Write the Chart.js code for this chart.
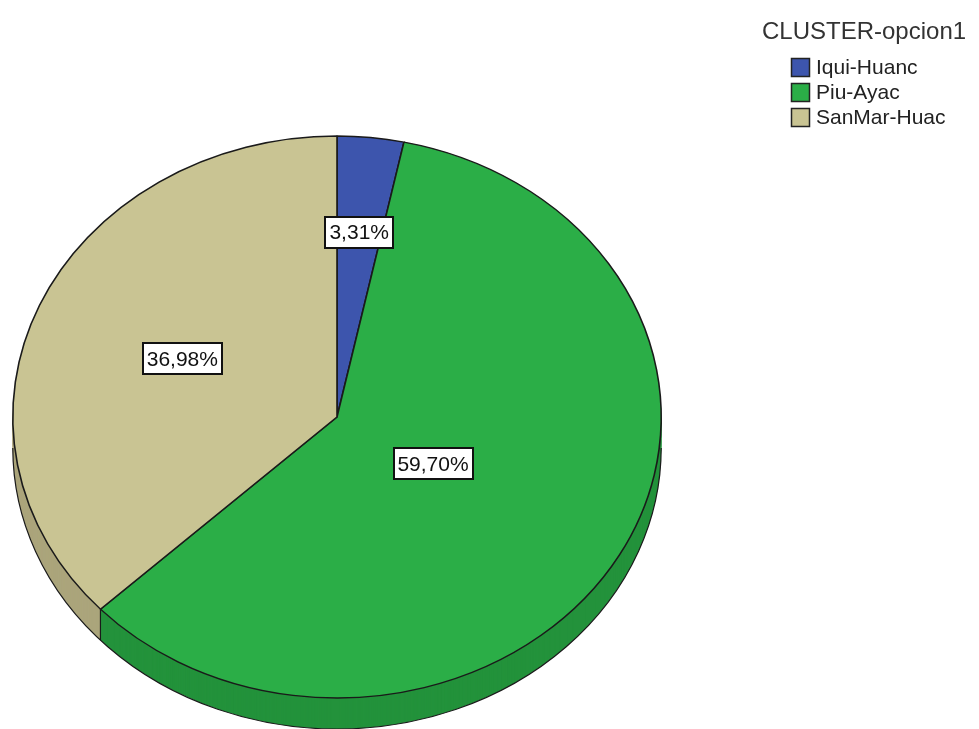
<!DOCTYPE html>
<html>
<head>
<meta charset="utf-8">
<script src="https://cdn.jsdelivr.net/npm/chart.js@4.4.0/dist/chart.umd.min.js"></script>
<style>
  html, body { margin: 0; padding: 0; background: #fff; }
  #contenedor { width: 979px; height: 729px; }
</style>
</head>
<body>
<div id="contenedor"><canvas id="myChart"></canvas></div>
<script>
// datos del grafico
const categorias = ['Iqui-Huanc', 'Piu-Ayac', 'SanMar-Huac'];
const porcentajes = [3.31, 59.70, 36.98];
const tituloLeyenda = 'CLUSTER-opcion1';

// colores: cara superior y lateral (mas oscuro)
const coloresCara = ['#3d55ad', '#2bae47', '#c9c493'];
const coloresLado = ['#2f4488', '#23923b', '#aba57c'];

// el pastel se aplasta en vertical y se le da grosor
const centroY = 417;
const radioY = 281;
const profundidad = 31;
// a que fraccion del radio va cada etiqueta
const posEtiqueta = [0.66, 0.34, 0.52];

//convierte el circulo de chart.js en elipse, desplazada dy hacia abajo
function aplicarElipse(ctx, arc, dy) {
    ctx.translate(0, centroY + dy);
    ctx.scale(1, radioY / arc.outerRadius);
    ctx.translate(0, -arc.y);
}

function formatear(valor) {
    return valor.toFixed(2).replace('.', ',') + '%';
}

const pastel3D = {
    id: 'pastel3D',
    beforeDatasetsDraw(chart) {
        var ctx = chart.ctx;
        var arcos = chart.getDatasetMeta(0).data;
        // lateral: capas apiladas de abajo hacia arriba
        for (let d = profundidad; d > 0; d--) {
            arcos.forEach((arc, i) => {
                ctx.save();
                aplicarElipse(ctx, arc, d);
                ctx.beginPath();
                ctx.moveTo(arc.x, arc.y);
                ctx.arc(arc.x, arc.y, arc.outerRadius, arc.startAngle, arc.endAngle);
                ctx.closePath();
                ctx.fillStyle = coloresLado[i];
                ctx.fill();
                ctx.restore();
            });
        }
        // contorno inferior del lateral
        var a0 = arcos[0];
        var k = radioY / a0.outerRadius;
        ctx.save();
        ctx.strokeStyle = '#1a1a1a';
        ctx.lineWidth = 1.2;
        ctx.beginPath();
        ctx.ellipse(a0.x, centroY + profundidad, a0.outerRadius, radioY, 0, 0, Math.PI);
        ctx.stroke();
        // aristas verticales entre porciones que quedan de frente
        arcos.forEach(arc => {
            var ang = arc.startAngle;
            if (Math.sin(ang) > 0) {
                var x = arc.x + Math.cos(ang) * arc.outerRadius;
                var y = centroY + Math.sin(ang) * arc.outerRadius * k;
                ctx.beginPath();
                ctx.moveTo(x, y);
                ctx.lineTo(x, y + profundidad);
                ctx.stroke();
            }
        });
        ctx.restore();
        // cara superior (la dibuja chart.js)
        ctx.save();
        aplicarElipse(ctx, a0, 0);
    },
    afterDatasetsDraw(chart) {
        chart.ctx.restore();
    },
    afterDraw(chart) {
        var ctx = chart.ctx;
        var arcos = chart.getDatasetMeta(0).data;
        ctx.save();
        // etiquetas de porcentaje
        ctx.font = '21px "Liberation Sans", Arial, sans-serif';
        ctx.textAlign = 'center';
        ctx.textBaseline = 'middle';
        arcos.forEach((arc, i) => {
            var medio = (arc.startAngle + arc.endAngle) / 2;
            var r = arc.outerRadius * posEtiqueta[i];
            var x = arc.x + Math.cos(medio) * r;
            var y = centroY + Math.sin(medio) * r * radioY / arc.outerRadius;
            var texto = formatear(porcentajes[i]);
            var w = Math.round(ctx.measureText(texto).width + 8);
            var h = 31;
            var bx = Math.round(x - w / 2);
            var by = Math.round(y - h / 2);
            ctx.fillStyle = '#ffffff';
            ctx.fillRect(bx, by, w, h);
            ctx.strokeStyle = '#111';
            ctx.lineWidth = 2;
            ctx.strokeRect(bx, by, w, h);
            ctx.fillStyle = '#111';
            ctx.fillText(texto, x, y + 1);
        });
        // leyenda
        ctx.textAlign = 'left';
        ctx.textBaseline = 'alphabetic';
        ctx.fillStyle = '#333';
        ctx.font = '24px "Liberation Sans", Arial, sans-serif';
        ctx.fillText(tituloLeyenda, 762, 39);
        ctx.font = '21px "Liberation Sans", Arial, sans-serif';
        ctx.textBaseline = 'middle';
        categorias.forEach((cat, i) => {
            var y = 58 + i * 25;
            ctx.fillStyle = coloresCara[i];
            ctx.fillRect(791.5, y + 0.5, 18, 18);
            ctx.strokeStyle = '#222';
            ctx.lineWidth = 1.5;
            ctx.strokeRect(791.5, y + 0.5, 18, 18);
            ctx.fillStyle = '#222';
            ctx.fillText(cat, 816, y + 10);
        });
        ctx.restore();
    }
};

const data = {
    labels: categorias,
    datasets: [{
        data: porcentajes,
        backgroundColor: coloresCara,
        borderColor: '#1a1a1a',
        borderWidth: 1.6,
        clip: false
    }]
};

const config = {
    type: 'pie',
    data: data,
    options: {
        responsive: true,
        maintainAspectRatio: false,
        animation: false,
        events: [],
        layout: { padding: { left: 12, right: 317, top: 0, bottom: 79 } },
        plugins: {
            legend: { display: false },
            tooltip: { enabled: false }
        }
    },
    plugins: [pastel3D]
};

var myChart = new Chart(document.getElementById('myChart'), config);
</script>
</body>
</html>
